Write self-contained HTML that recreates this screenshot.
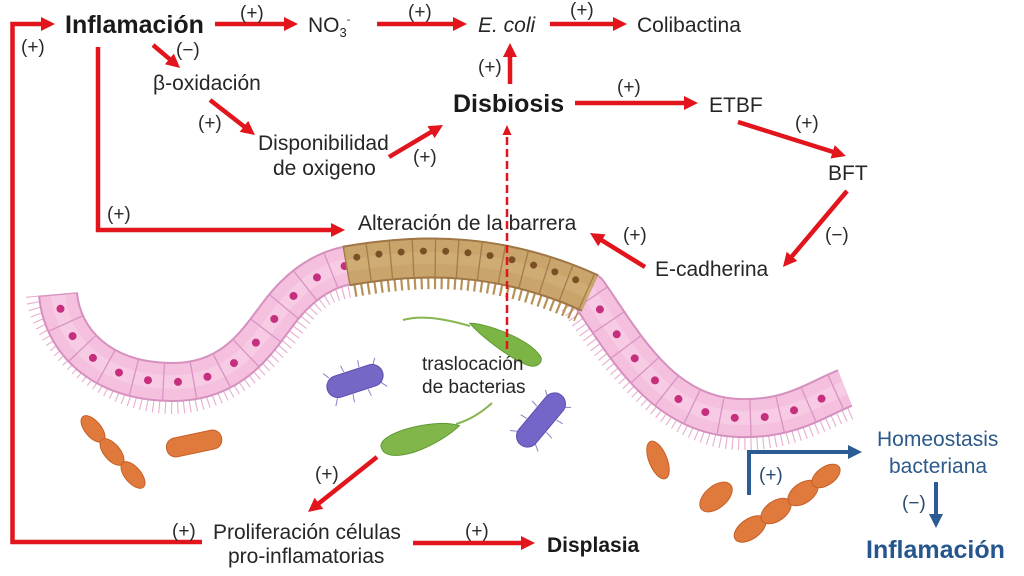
<!DOCTYPE html>
<html>
<head>
<meta charset="utf-8">
<style>
  html,body{margin:0;padding:0;background:#fff;}
  body{width:1024px;height:576px;overflow:hidden;}
  svg{display:block;}
  text{font-family:"Liberation Sans",Arial,sans-serif;fill:#262626;}
  .lbl{font-size:21px;}
  .pm{font-size:19px;fill:#2a2a2a;}
  .bold{font-weight:bold;fill:#1a1a1a;}
</style>
</head>
<body>
<svg width="1024" height="576" viewBox="0 0 1024 576" xmlns="http://www.w3.org/2000/svg">
<defs>
  <marker id="r" markerUnits="userSpaceOnUse" markerWidth="16" markerHeight="16" refX="2" refY="7" orient="auto">
    <path d="M0,0 L14,7 L0,14 z" fill="#e2141c"/>
  </marker>
  <marker id="rs" markerUnits="userSpaceOnUse" markerWidth="12" markerHeight="10" refX="1" refY="4.5" orient="auto">
    <path d="M0,0 L10,4.5 L0,9 z" fill="#e2141c"/>
  </marker>
  <marker id="b" markerUnits="userSpaceOnUse" markerWidth="16" markerHeight="16" refX="2" refY="7" orient="auto">
    <path d="M0,0 L14,7 L0,14 z" fill="#2b5c93"/>
  </marker>
</defs>

<!-- ============ EPITHELIUM ============ -->
<g fill="none">
  <!-- pink villi (lumen side) -->
  <path d="M34,296 C38,342 100,406 173,406 C230,406 274,359 294,332 C314,304 324,294 354,289"
        stroke="#e8adcf" stroke-width="16" stroke-dasharray="1.1 5"/>
  <path d="M568,306 C602,354 660,439 738,442 C790,444 824,422 854,410"
        stroke="#e8adcf" stroke-width="16" stroke-dasharray="1.1 5"/>
  <!-- brown villi -->
  <path d="M354,289 C424,277 490,274 578,314"
        stroke="#b89157" stroke-width="16" stroke-dasharray="2.2 4.5"/>

  <!-- pink band -->
  <path d="M58,294 C62,340 100,382 173,382 C230,382 255,345 275,318 C295,290 320,270 350,265 C420,253 500,252 588,292 C622,340 660,415 738,418 C790,420 815,400 845,388"
        stroke="#d690bf" stroke-width="40" stroke-linejoin="round"/>
  <path d="M58,294 C62,340 100,382 173,382 C230,382 255,345 275,318 C295,290 320,270 350,265 C420,253 500,252 588,292 C622,340 660,415 738,418 C790,420 815,400 845,388"
        stroke="#f5c0de" stroke-width="36" stroke-linejoin="round"/>
  <path d="M58,294 C62,340 100,382 173,382 C230,382 255,345 275,318 C295,290 320,270 350,265 C420,253 500,252 588,292 C622,340 660,415 738,418 C790,420 815,400 845,388"
        stroke="#f9d6ea" stroke-width="14" stroke-linejoin="round" opacity="0.5"/>
  <!-- cell dividers -->
  <path d="M58,294 C62,340 100,382 173,382 C230,382 255,345 275,318 C295,290 320,270 350,265 C420,253 500,252 588,292 C622,340 660,415 738,418 C790,420 815,400 845,388"
        stroke="#d894c2" stroke-width="36" stroke-dasharray="1.3 28.7"/>
  <!-- nuclei -->
  <path d="M58,294 C62,340 100,382 173,382 C230,382 255,345 275,318 C295,290 320,270 350,265 C420,253 500,252 588,292 C622,340 660,415 738,418 C790,420 815,400 845,388"
        stroke="#c52f7e" stroke-width="8" stroke-linecap="round" stroke-dasharray="0 30" stroke-dashoffset="-15"/>

  <!-- brown segment -->
  <path d="M346,266 C420,253 500,252 590,293" stroke="#9f7645" stroke-width="41"/>
  <path d="M346,266 C420,253 500,252 590,293" stroke="#c9a46b" stroke-width="37"/>
  <path d="M346,266 C420,253 500,252 590,293" stroke="#d6b47d" stroke-width="12" opacity="0.5"/>
  <path d="M346,266 C420,253 500,252 590,293" stroke="#a57b48" stroke-width="37" stroke-dasharray="1.3 21"/>
  <path d="M346,266 C420,253 500,252 590,293" transform="translate(0,-7)" stroke="#7a4f26" stroke-width="7" stroke-linecap="round" stroke-dasharray="0 22.3" stroke-dashoffset="-11"/>
</g>

<!-- ============ BACTERIA ============ -->
<!-- green 1 -->
<path d="M403,320 C420,315 442,318 470,326" fill="none" stroke="#86b552" stroke-width="2"/>
<g transform="translate(505,342) rotate(28)">
  <path d="M-40,0 C-25,-8 20,-14 38,-4 C44,0 40,9 30,10 C10,12 -25,6 -40,0 z" fill="#7db446" stroke="#5f9a32" stroke-width="1"/>
</g>
<!-- green 2 -->
<path d="M456,424 C470,420 481,413 492,403" fill="none" stroke="#86b552" stroke-width="2"/>
<g transform="translate(420,437) rotate(-16)">
  <path d="M-40,0 C-42,-9 -20,-14 10,-10 C25,-8 35,-4 41,0 C30,6 10,12 -10,13 C-30,13 -40,8 -40,0 z" fill="#80b64a" stroke="#5f9a32" stroke-width="1"/>
</g>
<!-- purple 1 -->
<g transform="translate(355,381) rotate(-18)" stroke="#8a7fc9" stroke-width="1" fill="none">
  <path d="M-24,-11 l-4,-6 M-8,-12 l-1,-7 M8,-12 l1,-7 M22,-10 l4,-6 M-22,11 l-4,7 M-6,12 l-1,8 M10,12 l1,7 M24,9 l5,6"/>
  <rect x="-29" y="-11" width="58" height="22" rx="11" fill="#7567c6" stroke="#5d4fb0"/>
</g>
<!-- purple 2 -->
<g transform="translate(541,420) rotate(-50)" stroke="#8a7fc9" stroke-width="1" fill="none">
  <path d="M-24,-11 l-4,-6 M-8,-12 l-1,-7 M8,-12 l1,-7 M22,-10 l4,-6 M-22,11 l-4,7 M-6,12 l-1,8 M10,12 l1,7 M24,9 l5,6"/>
  <rect x="-32" y="-11" width="64" height="22" rx="11" fill="#7366c8" stroke="#5d4fb0"/>
</g>
<!-- orange -->
<g fill="#e07a3c" stroke="#c65f27" stroke-width="1">
  <ellipse cx="93" cy="429" rx="16" ry="8" transform="rotate(50 93 429)"/>
  <ellipse cx="112" cy="452" rx="16" ry="8" transform="rotate(50 112 452)"/>
  <ellipse cx="133" cy="475" rx="16" ry="8" transform="rotate(50 133 475)"/>
  <rect x="166" y="434" width="56" height="19" rx="9" transform="rotate(-12 194 443)"/>
  <ellipse cx="658" cy="460" rx="20" ry="9" transform="rotate(68 658 460)"/>
  <ellipse cx="716" cy="497" rx="19" ry="11" transform="rotate(-40 716 497)"/>
  <ellipse cx="750" cy="529" rx="18" ry="10" transform="rotate(-35 750 529)"/>
  <ellipse cx="776" cy="511" rx="17" ry="10" transform="rotate(-35 776 511)"/>
  <ellipse cx="803" cy="493" rx="17" ry="10" transform="rotate(-35 803 493)"/>
  <ellipse cx="826" cy="476" rx="16" ry="9" transform="rotate(-35 826 476)"/>
</g>

<!-- ============ ARROWS ============ -->
<g fill="none" stroke="#e2141c" stroke-width="4.5">
  <polyline points="202,542 12.5,542 12.5,24 43,24" marker-end="url(#r)"/>
  <line x1="215" y1="24" x2="286" y2="24" marker-end="url(#r)"/>
  <line x1="377" y1="24" x2="455" y2="24" marker-end="url(#r)"/>
  <line x1="550" y1="24" x2="615" y2="24" marker-end="url(#r)"/>
  <line x1="510" y1="84" x2="510" y2="55" marker-end="url(#r)"/>
  <line x1="575" y1="103" x2="686" y2="103" marker-end="url(#r)"/>
  <line x1="738" y1="122" x2="834.5" y2="152.4" marker-end="url(#r)"/>
  <line x1="847" y1="191" x2="790.7" y2="257.8" marker-end="url(#r)"/>
  <line x1="645" y1="267" x2="600.2" y2="239.3" marker-end="url(#r)"/>
  <polyline points="98,47 98,230 333,230" marker-end="url(#r)"/>
  <line x1="153" y1="45" x2="170.9" y2="60.2" marker-end="url(#r)"/>
  <line x1="210" y1="100" x2="245.5" y2="127.6" marker-end="url(#r)"/>
  <line x1="389" y1="157" x2="432.7" y2="131.1" marker-end="url(#r)"/>
  <line x1="377" y1="457" x2="317.4" y2="504.5" marker-end="url(#r)"/>
  <line x1="413" y1="543" x2="523" y2="543" marker-end="url(#r)"/>
</g>
<line x1="507" y1="349" x2="507" y2="134" stroke="#e2141c" stroke-width="2.5" stroke-dasharray="8 4" fill="none" marker-end="url(#rs)"/>

<g fill="none" stroke="#2b5c93" stroke-width="4">
  <polyline points="749,495 749,452 850,452" marker-end="url(#b)"/>
  <line x1="936" y1="482" x2="936" y2="516" marker-end="url(#b)"/>
</g>

<!-- ============ TEXT ============ -->
<text x="65" y="33" class="bold" font-size="25">Inflamación</text>
<text x="308" y="32" class="lbl">NO<tspan font-size="13" dy="5">3</tspan><tspan font-size="11" dy="-14">-</tspan></text>
<text x="478" y="32" class="lbl" font-style="italic">E. coli</text>
<text x="637" y="32" class="lbl">Colibactina</text>
<text x="153" y="90" class="lbl">β-oxidación</text>
<text x="453" y="112" class="bold" font-size="25">Disbiosis</text>
<text x="709" y="112" class="lbl">ETBF</text>
<text x="258" y="150" class="lbl">Disponibilidad</text>
<text x="273" y="175" class="lbl">de oxigeno</text>
<text x="828" y="180" class="lbl">BFT</text>
<text x="358" y="230" class="lbl">Alteración de la barrera</text>
<text x="655" y="276" class="lbl">E-cadherina</text>
<text x="422" y="370" font-size="19">traslocación</text>
<text x="422" y="393" font-size="19">de bacterias</text>
<text x="213" y="539" class="lbl">Proliferación células</text>
<text x="228" y="563" class="lbl">pro-inflamatorias</text>
<text x="547" y="552" class="bold" font-size="21">Displasia</text>
<text x="877" y="446" class="lbl" style="fill:#2c5a8a">Homeostasis</text>
<text x="889" y="473" class="lbl" style="fill:#2c5a8a">bacteriana</text>
<text x="866" y="558" class="bold" font-size="25" style="fill:#26568f">Inflamación</text>

<text x="21" y="53" class="pm">(+)</text>
<text x="240" y="19" class="pm">(+)</text>
<text x="408" y="18" class="pm">(+)</text>
<text x="570" y="16" class="pm">(+)</text>
<text x="176" y="56" class="pm">(−)</text>
<text x="478" y="73" class="pm">(+)</text>
<text x="617" y="93" class="pm">(+)</text>
<text x="198" y="129" class="pm">(+)</text>
<text x="413" y="163" class="pm">(+)</text>
<text x="795" y="129" class="pm">(+)</text>
<text x="107" y="220" class="pm">(+)</text>
<text x="623" y="241" class="pm">(+)</text>
<text x="825" y="241" class="pm">(−)</text>
<text x="315" y="480" class="pm">(+)</text>
<text x="172" y="537" class="pm">(+)</text>
<text x="465" y="537" class="pm">(+)</text>
<text x="759" y="481" class="pm" style="fill:#2a4a70">(+)</text>
<text x="902" y="509" class="pm" style="fill:#2a4a70">(−)</text>
</svg>
</body>
</html>
